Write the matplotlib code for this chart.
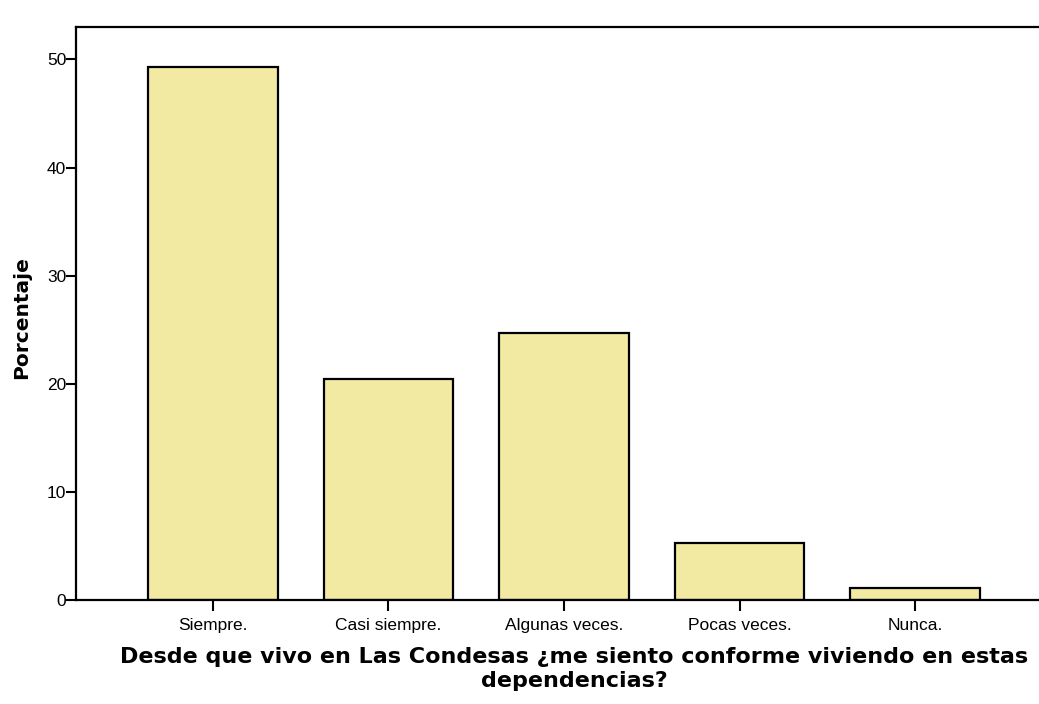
import matplotlib
matplotlib.use("Agg")
import matplotlib.pyplot as plt

categories = ["Siempre.", "Casi siempre.", "Algunas veces.", "Pocas veces.", "Nunca."]
percentages = [49.3, 20.4, 24.7, 5.3, 1.1]
yticks = [0, 10, 20, 30, 40, 50]

plt.rcParams['font.family'] = ['Liberation Sans', 'DejaVu Sans']

fig = plt.figure(figsize=(10.39, 7.04), dpi=100)
ax = fig.add_axes([76/1039, 104/704, 976/1039, 573/704])

x = list(range(len(categories)))
ax.bar(x, percentages, width=0.74, color='#F2EAA3', edgecolor='black', linewidth=1.6)

ax.set_xlim(-0.78, 4.78)
ax.set_ylim(0, 53)
ax.set_xticks(x)
ax.set_xticklabels(categories, fontsize=12.5)
ax.set_yticks(yticks)
ax.set_yticklabels([str(v) for v in yticks], fontsize=12.5)
ax.tick_params(axis='x', direction='out', length=8, width=1.5, pad=5)
ax.tick_params(axis='y', direction='out', length=7, width=1.5, pad=0)

for s in ['left', 'bottom', 'top']:
    ax.spines[s].set_linewidth(1.6)
ax.spines['right'].set_visible(False)

fig.text(22/1039, 1 - 318/704, "Porcentaje", rotation=90, ha='center', va='center',
         fontsize=14.5, fontweight='bold', family=['DejaVu Sans'])
fig.text(574/1039, 1 - 669/704,
         "Desde que vivo en Las Condesas ¿me siento conforme viviendo en estas\ndependencias?",
         ha='center', va='center', fontsize=16, fontweight='bold', linespacing=1.3,
         family=['DejaVu Sans'])

fig.savefig("out.png", dpi=100)
